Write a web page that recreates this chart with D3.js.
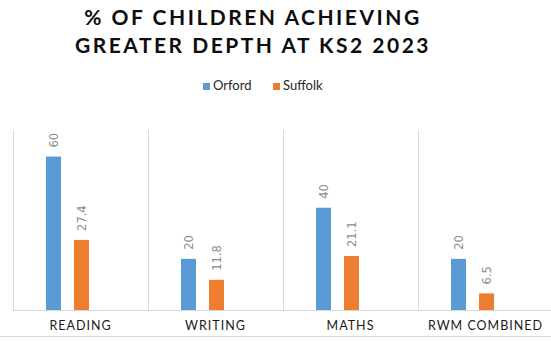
<!DOCTYPE html>
<html><head><meta charset="utf-8">
<script src="https://cdn.jsdelivr.net/npm/d3@7"></script>
<style>body{margin:0;background:#fff}svg{display:block}</style>
</head><body>
<svg id="c" width="551" height="341"></svg>
<script>
const categories = ["READING", "WRITING", "MATHS", "RWM COMBINED"];
const seriesNames = ["Orford", "Suffolk"];
const orford = [60, 20, 40, 20];
const suffolk = [27.4, 11.8, 21.1, 6.5];
const titleLines = ["% OF CHILDREN ACHIEVING", "GREATER DEPTH AT KS2 2023"];
const colors = ["#5B9BD5", "#ED7D31"];
const values = [orford, suffolk];

const svg = d3.select("#c");
const plotLeft = 13, plotRight = 553, plotTop = 131, plotBottom = 310;

const x0 = d3.scaleBand().domain(categories).range([plotLeft, plotRight]).padding(0);
// three slots per category (Excel layout leaves a third empty slot)
const x1 = d3.scaleBand().domain([0, 1, 2]).range([33, 104]).paddingInner(13 / 28).paddingOuter(0);
const y = d3.scaleLinear().domain([0, 70]).range([plotBottom, plotTop]);

// bottom border line
svg.append("line").attr("x1", 0).attr("x2", 551).attr("y1", 336.5).attr("y2", 336.5)
  .attr("stroke", "#d9d9d9").attr("stroke-width", 1);

// category dividers
const dividers = categories.map(c => x0(c));
svg.selectAll("line.div").data(dividers).join("line")
  .attr("x1", d => Math.round(d) + 0.5).attr("x2", d => Math.round(d) + 0.5)
  .attr("y1", plotTop - 1).attr("y2", plotBottom)
  .attr("stroke", "#d9d9d9");

// baseline
svg.append("line").attr("x1", plotLeft).attr("x2", 551).attr("y1", plotBottom + 0.5).attr("y2", plotBottom + 0.5)
  .attr("stroke", "#d9d9d9");

// bars
seriesNames.forEach((s, si) => {
  const g = svg.append("g");
  g.selectAll("rect").data(categories).join("rect")
    .attr("x", c => x0(c) + x1(si))
    .attr("width", x1.bandwidth())
    .attr("y", (c, i) => y(values[si][i]))
    .attr("height", (c, i) => plotBottom - y(values[si][i]))
    .attr("fill", colors[si]);
  g.selectAll("text").data(categories).join("text")
    .attr("transform", (c, i) => `translate(${x0(c) + x1(si) + x1.bandwidth() / 2 + 4},${y(values[si][i]) - 9}) rotate(-90)`)
    .attr("text-anchor", "start")
    .attr("font-family", "DejaVu Sans, sans-serif")
    .attr("font-size", 11.5)
    .attr("fill", "#8c8c8c")
    .text((c, i) => values[si][i]);
});

// category labels
svg.selectAll("text.cat").data(categories).join("text")
  .attr("x", c => x0(c) + x0.bandwidth() / 2)
  .attr("y", 330)
  .attr("text-anchor", "middle")
  .attr("font-family", "Lato, sans-serif")
  .attr("font-size", 12.5)
  .attr("letter-spacing", 1.0)
  .attr("fill", "#1a1a1a")
  .text(c => c);

// title
svg.selectAll("text.title").data(titleLines).join("text")
  .attr("x", 253).attr("y", (d, i) => 25 + i * 28)
  .attr("text-anchor", "middle")
  .attr("font-family", "Lato, sans-serif")
  .attr("font-weight", "bold")
  .attr("font-size", 21)
  .attr("letter-spacing", 2.5)
  .attr("fill", "#0d0d0d")
  .text(d => d);

// legend
const legX = [203, 273];
seriesNames.forEach((s, i) => {
  svg.append("rect").attr("x", legX[i]).attr("y", 83).attr("width", 7).attr("height", 7).attr("fill", colors[i]);
  svg.append("text").attr("x", legX[i] + 10).attr("y", 90)
    .attr("font-family", "Lato, sans-serif").attr("font-size", 13).attr("fill", "#262626")
    .text(s);
});
</script>
</body></html>
